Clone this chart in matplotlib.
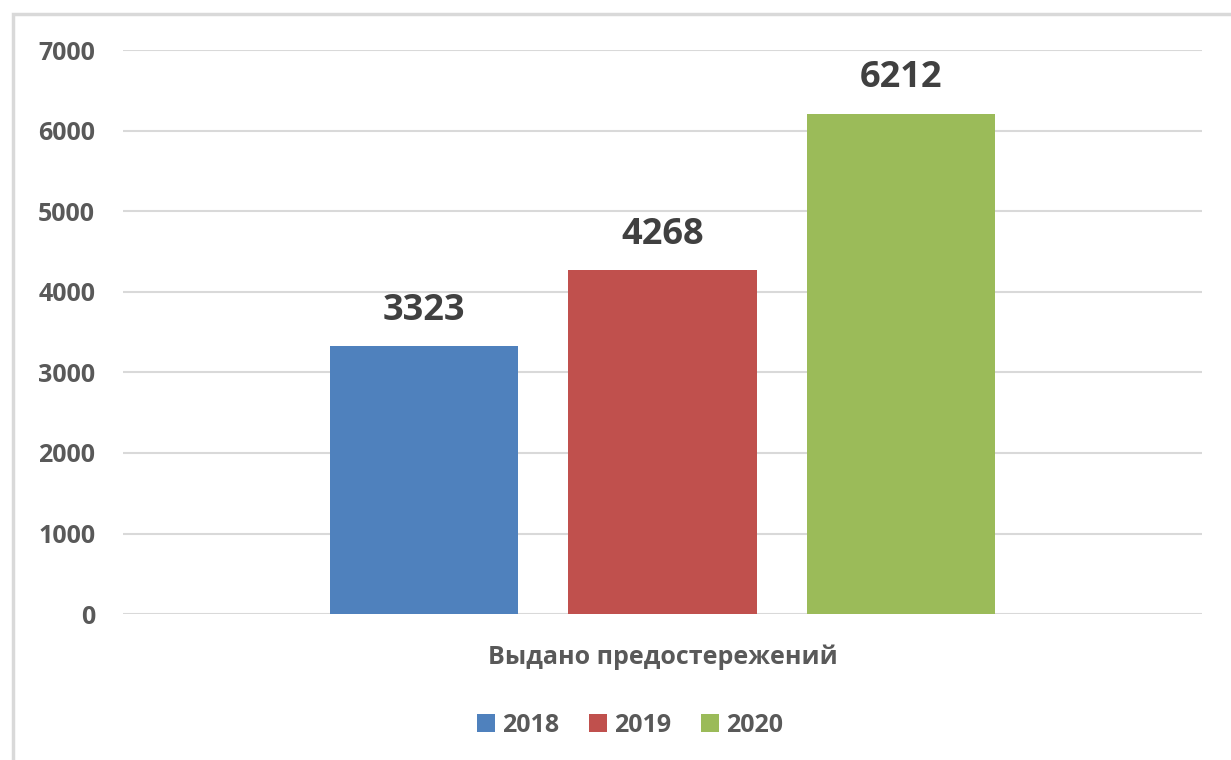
import matplotlib.pyplot as plt
from matplotlib.patches import Rectangle

# данные
years = ['2018', '2019', '2020']
values = [3323, 4268, 6212]
category = 'Выдано предостережений'
colors = ['#4f81bd', '#c0504d', '#9bbb59']

plt.rcParams['font.family'] = ['Open Sans', 'DejaVu Sans']

fig = plt.figure(figsize=(12.31, 7.6), dpi=100)
ax = fig.add_axes([0.0999, 0.192, 0.8766, 0.742])

# рамка вокруг диаграммы
fig.patches.append(Rectangle((0.0106, -0.02), 1.02, 1.0016, transform=fig.transFigure,
                             fill=False, edgecolor='#d9d9d9', linewidth=2.5, clip_on=False))

bar_w = 0.175
gap = 0.046
for i, (y, v, c) in enumerate(zip(years, values, colors)):
    x = (i - 1) * (bar_w + gap)
    ax.bar(x, v, width=bar_w, color=c, label=y, zorder=3)
    ax.text(x, v + 220, str(v), ha='center', va='bottom', fontsize=26,
            fontweight='bold', color='#404040')

ax.set_xlim(-0.5, 0.5)
ax.set_ylim(0, 7000)
ax.set_yticks(range(0, 7001, 1000))
ax.set_xticks([0])
ax.set_xticklabels([category])
ax.tick_params(axis='y', length=0, pad=20, labelsize=18, labelcolor='#595959')
ax.tick_params(axis='x', length=0, pad=22, labelsize=18, labelcolor='#595959')
for lab in ax.get_yticklabels() + ax.get_xticklabels():
    lab.set_fontweight('bold')

ax.grid(axis='y', color='#d9d9d9', linewidth=1.5, zorder=0)
for s in ax.spines.values():
    s.set_visible(False)

leg = ax.legend(loc='upper center', bbox_to_anchor=(0.47, -0.135), ncol=3, frameon=False,
                handlelength=0.7, handleheight=0.7, handletextpad=0.3, columnspacing=1.2,
                prop={'size': 18, 'weight': 'bold'})
for t in leg.get_texts():
    t.set_color('#595959')

fig.savefig('out.png', dpi=100)
